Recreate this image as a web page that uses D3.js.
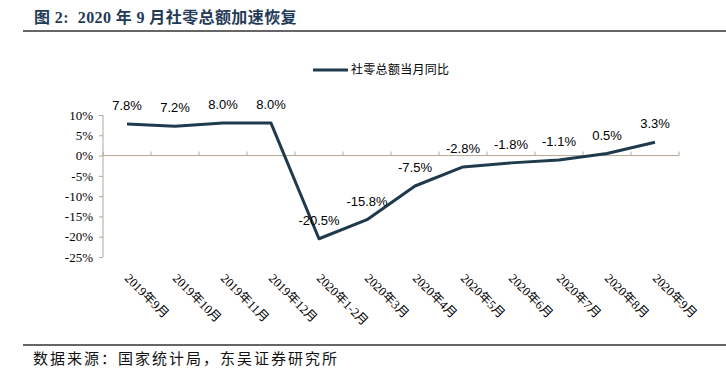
<!DOCTYPE html>
<html>
<head>
<meta charset="utf-8">
<title>社零总额</title>
<script src="https://cdn.jsdelivr.net/npm/d3@7"></script>
<style>
  body { margin: 0; background: #fff; }
  svg { display: block; }
</style>
</head>
<body>
<script>
var months = ["2019年9月", "2019年10月", "2019年11月", "2019年12月", "2020年1-2月", "2020年3月",
              "2020年4月", "2020年5月", "2020年6月", "2020年7月", "2020年8月", "2020年9月"];
var yoy = [7.8, 7.2, 8.0, 8.0, -20.5, -15.8, -7.5, -2.8, -1.8, -1.1, 0.5, 3.3];
var yTicks = [10, 5, 0, -5, -10, -15, -20, -25];
var seriesName = "社零总额当月同比";

var w = 726, h = 379;
var lineColor = "#1f3a4d";
var axisColor = "#b3a797";
var serif = "'Liberation Serif', 'Times New Roman', 'Noto Sans CJK SC', serif";

var svg = d3.select("body").append("svg")
  .attr("width", w)
  .attr("height", h);

svg.append("rect").attr("width", w).attr("height", h).attr("fill", "#fff");

// title + rules
svg.append("text")
  .attr("x", 34).attr("y", 23)
  .attr("font-family", serif)
  .attr("font-weight", "bold")
  .attr("font-size", 16)
  .attr("letter-spacing", 0.4)
  .style("white-space", "pre")
  .attr("fill", "#1f3a57")
  .text("图 2:  2020 年 9 月社零总额加速恢复");
svg.append("line").attr("x1", 23).attr("x2", w).attr("y1", 31).attr("y2", 31)
  .attr("stroke", "#333").attr("stroke-width", 1.5);
svg.append("line").attr("x1", 23).attr("x2", w).attr("y1", 345).attr("y2", 345)
  .attr("stroke", "#333").attr("stroke-width", 1.5);
svg.append("text")
  .attr("x", 33).attr("y", 364)
  .attr("font-family", "'Noto Sans CJK SC', sans-serif")
  .attr("font-size", 15)
  .attr("letter-spacing", 2)
  .attr("fill", "#111")
  .text("数据来源：国家统计局，东吴证券研究所");

var x = d3.scaleBand().domain(months).range([103, 679]);
var y = d3.scaleLinear().domain([-25, 10]).range([257, 115]);

// y axis
var yAxis = svg.append("g")
  .attr("transform", "translate(103,0)")
  .call(d3.axisLeft(y).tickValues(yTicks).tickSize(4).tickPadding(6)
    .tickFormat(function(d) { return d + "%"; }));
yAxis.select(".domain").attr("stroke", axisColor).attr("d", "M0," + y(10) + "V" + y(-25));
yAxis.selectAll(".tick line").attr("stroke", axisColor);
yAxis.selectAll(".tick text")
  .attr("font-family", serif).attr("font-size", 13).attr("fill", "#000");

// x axis at zero
var xAxis = svg.append("g")
  .attr("transform", "translate(0," + y(0) + ")")
  .call(d3.axisBottom(x).tickSize(0).tickFormat(""));
xAxis.select(".domain").attr("stroke", axisColor).attr("d", "M103,0H679");
xAxis.selectAll(".tick").remove();
xAxis.selectAll(".xt")
  .data(d3.range(months.length + 1))
  .enter().append("line")
  .attr("x1", function(i) { return 103 + i * x.step(); })
  .attr("x2", function(i) { return 103 + i * x.step(); })
  .attr("y1", 0).attr("y2", -4)
  .attr("stroke", axisColor);

// category labels, rotated
svg.selectAll(".xlab")
  .data(months)
  .enter().append("text")
  .attr("class", "xlab")
  .attr("transform", function(d) {
    return "translate(" + (x(d) + x.bandwidth() / 2 - 3) + ",279) rotate(45)";
  })
  .attr("font-family", serif)
  .attr("font-size", 12.5)
  .attr("fill", "#000")
  .text(function(d) { return d; });

// line
var line = d3.line()
  .x(function(d, i) { return x(months[i]) + x.bandwidth() / 2; })
  .y(function(d) { return y(d); });

svg.append("path")
  .datum(yoy)
  .attr("d", line)
  .attr("fill", "none")
  .attr("stroke", lineColor)
  .attr("stroke-width", 3)
  .attr("stroke-linejoin", "round");

// data labels
svg.selectAll(".lab")
  .data(yoy)
  .enter().append("text")
  .attr("x", function(d, i) { return x(months[i]) + x.bandwidth() / 2; })
  .attr("y", function(d) { return y(d) - 14; })
  .attr("text-anchor", "middle")
  .attr("font-family", "'Liberation Sans', Arial, sans-serif")
  .attr("font-size", 13)
  .attr("fill", "#000")
  .text(function(d) { return d.toFixed(1) + "%"; });

// legend
svg.append("line")
  .attr("x1", 313).attr("x2", 348).attr("y1", 70).attr("y2", 70)
  .attr("stroke", lineColor).attr("stroke-width", 3);
svg.append("text")
  .attr("x", 351).attr("y", 74)
  .attr("font-family", "'Noto Sans CJK SC', sans-serif")
  .attr("font-size", 12)
  .attr("letter-spacing", 0.3)
  .attr("fill", "#000")
  .text(seriesName);
</script>
</body>
</html>
